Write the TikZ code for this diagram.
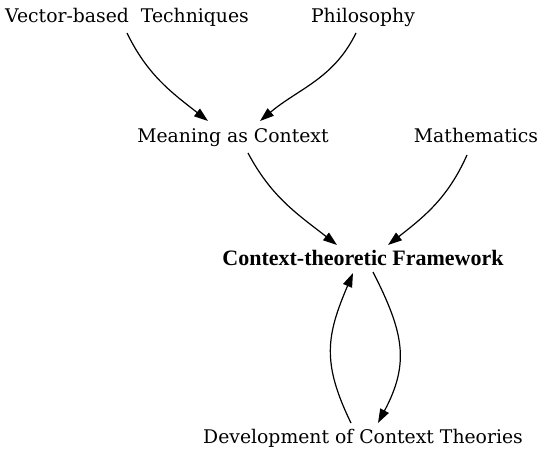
\documentclass[tikz,border=0pt]{standalone}
\usepackage{fontspec}
\setmainfont{DejaVu Serif}
\newfontfamily\boldfont{Liberation Serif}
\usetikzlibrary{arrows.meta}
\begin{document}
\begin{tikzpicture}[x=1pt,y=1pt,
  lbl/.style={inner sep=0pt, anchor=base, font=\fontsize{18.8}{22}\selectfont},
  blbl/.style={inner sep=0pt, anchor=base, font=\boldfont\bfseries\fontsize{22}{26}\selectfont},
  conn/.style={line width=1.2pt, -{Triangle[length=14pt,width=9.5pt]}}]
\useasboundingbox (0,0) rectangle (544,-453);
\node[lbl] (vec) at (127,-22) {Vector-based\ \ Techniques};
\node[lbl] (phil) at (363,-22) {Philosophy};
\node[lbl] (mean) at (233,-142) {Meaning as Context};
\node[lbl] (math) at (476,-142) {Mathematics};
\node[blbl] (ctf) at (363,-265) {Context-theoretic Framework};
\node[lbl] (dev) at (363,-443) {Development of Context Theories};
\draw[conn] ([yshift=-11pt]vec.base) to[out=-64,in=142] ([xshift=-25pt,yshift=21pt]mean.base);
\draw[conn] ([xshift=-7pt,yshift=-11pt]phil.base) to[out=-116,in=40] ([xshift=27pt,yshift=21pt]mean.base);
\draw[conn] ([xshift=15pt,yshift=-11pt]mean.base) to[out=-62,in=142] ([xshift=-26pt,yshift=20pt]ctf.base);
\draw[conn] ([xshift=-9pt,yshift=-13pt]math.base) to[out=-114,in=38] ([xshift=25pt,yshift=20pt]ctf.base);
\draw[conn] ([xshift=10pt,yshift=-7pt]ctf.base) to[out=-63,in=62,looseness=1.15] ([xshift=15pt,yshift=20pt]dev.base);
\draw[conn] ([xshift=-12pt,yshift=20pt]dev.base) to[out=116,in=-113,looseness=1.15] ([xshift=-10pt,yshift=-8pt]ctf.base);
\end{tikzpicture}
\end{document}
